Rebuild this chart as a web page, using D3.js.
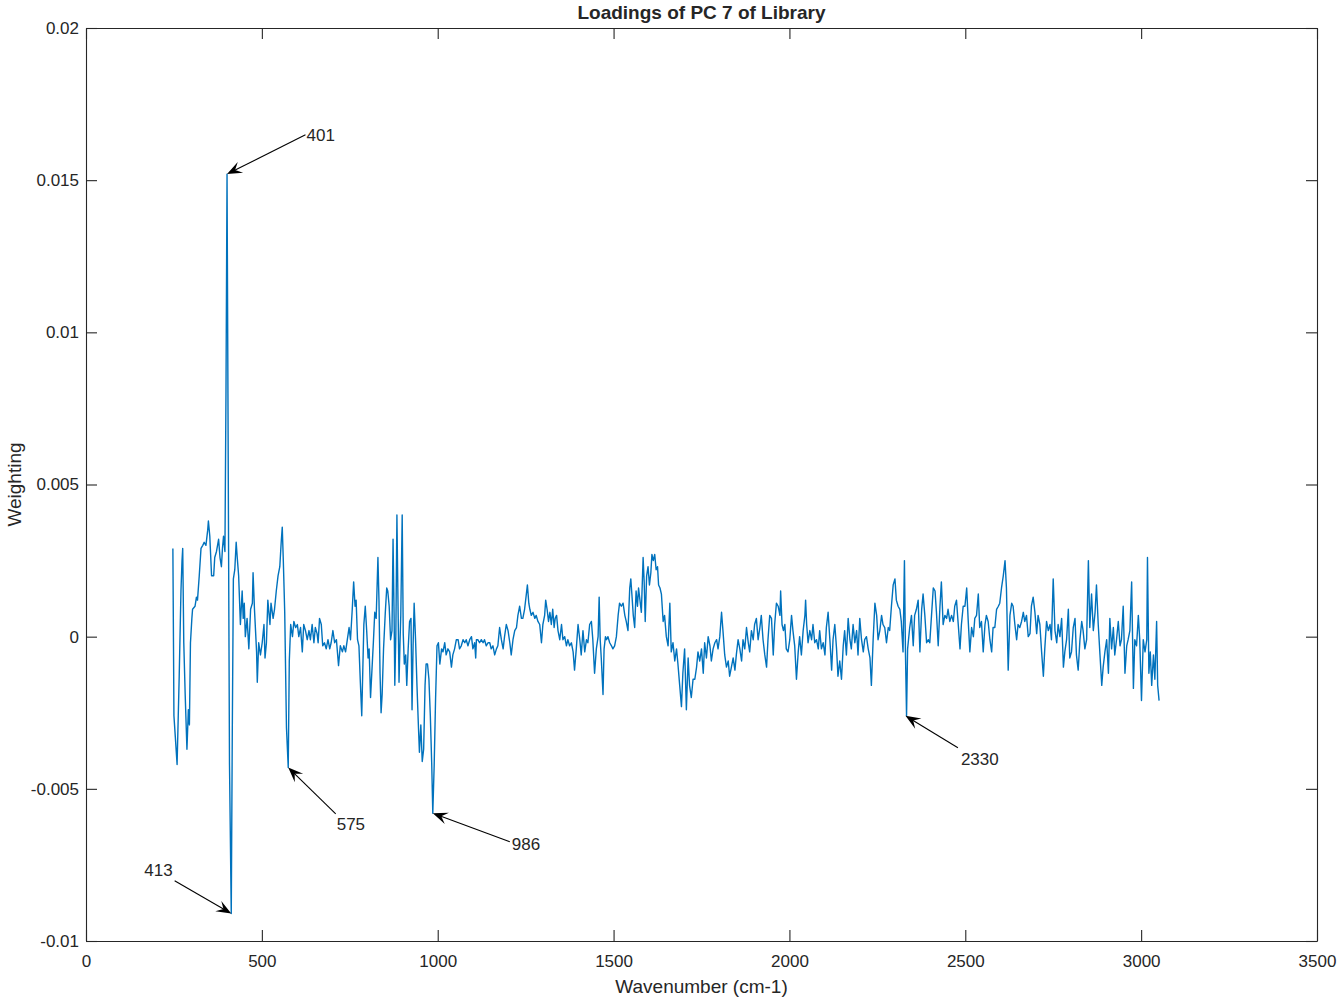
<!DOCTYPE html>
<html>
<head>
<meta charset="utf-8">
<script src="https://cdn.jsdelivr.net/npm/d3@7"></script>
<style>
  body { margin: 0; background: #fff; }
  text { font-family: "Liberation Sans", Arial, Helvetica, sans-serif; fill: #262626; }
</style>
</head>
<body>
<script>
var width = 1340;
var height = 1002;

// tick values of the axes
var xTicks = [0, 500, 1000, 1500, 2000, 2500, 3000, 3500];
var yTicks = [-0.01, -0.005, 0, 0.005, 0.01, 0.015, 0.02];

// loadings of PC 7, [wavenumber, weighting]
var loadings = [
  [247, 0.0029], [249, -0.0007], [250, -0.0026], [254, -0.0033], [259, -0.0042],
  [265, -0.0013], [270, 0.0015], [273, 0.0025], [275, 0.0029], [278, -0.0002],
  [282, -0.0019], [287, -0.0037], [291, -0.0024], [294, -0.0029], [297, -0.0002],
  [301, 0.0006], [303, 0.0009], [310, 0.0010], [314, 0.0013], [317, 0.0012],
  [322, 0.0020], [327, 0.0029], [332, 0.0030], [336, 0.0031], [341, 0.0030],
  [346, 0.0035], [348, 0.0038], [352, 0.0033], [357, 0.0020], [363, 0.0020],
  [366, 0.0026], [371, 0.0028], [374, 0.0030], [377, 0.0032], [381, 0.0026],
  [385, 0.0023], [388, 0.0029], [391, 0.0033], [395, 0.0028], [398, 0.0080],
  [401, 0.0152], [405, 0.0040], [408, -0.0042], [413, -0.0091], [416, -0.0030],
  [419, 0.0019], [423, 0.0022], [427, 0.0031], [430, 0.0026], [434, 0.0020],
  [439, 0.0004], [444, 0.0015], [447, 0.0006], [450, 0.0011], [453, 0.0000],
  [458, 0.0006], [463, -0.0004], [468, 0.0009], [473, 0.0011], [475, 0.0021],
  [479, 0.0009], [485, -0.0005], [487, -0.0015], [491, -0.0002], [496, -0.0006],
  [501, -0.0002], [506, 0.0004], [509, -0.0007], [513, -0.0002], [517, 0.0012],
  [523, 0.0004], [526, 0.0011], [532, 0.0006], [536, 0.0009], [541, 0.0015],
  [546, 0.0020], [551, 0.0023], [555, 0.0031], [558, 0.0036], [561, 0.0025],
  [565, 0.0008], [570, -0.0030], [575, -0.0043], [578, -0.0008], [582, 0.0004],
  [587, 0.0000], [591, 0.0005], [596, 0.0003], [601, 0.0004], [605, 0.0000],
  [610, 0.0003], [615, -0.0005], [619, 0.0004], [624, 0.0002], [629, -0.0001],
  [634, 0.0002], [638, -0.0001], [643, 0.0004], [648, -0.0002], [652, 0.0003],
  [657, 0.0001], [660, -0.0002], [664, 0.0006], [669, 0.0004], [673, -0.0003],
  [678, -0.0002], [683, -0.0004], [688, -0.0001], [693, -0.0004], [697, -0.0002],
  [702, 0.0002], [707, -0.0002], [712, -0.0001], [718, -0.00095], [723, -0.0003],
  [729, -0.0005], [733, -0.0003], [738, -0.0005], [743, -0.0001], [748, 0.0003],
  [752, -0.0001], [757, 0.0009], [761, 0.0018], [765, 0.0010], [768, 0.0012],
  [772, -0.0001], [776, -0.0003], [780, -0.0015], [784, -0.0026], [787, -0.0011],
  [790, 0.0004], [794, 0.0010], [798, 0.0002], [802, -0.0007], [805, -0.0004],
  [809, -0.0020], [813, -0.0011], [817, -0.0002], [821, 0.0008], [825, 0.0006],
  [830, 0.0026], [833, 0.0012], [836, -0.0012], [839, -0.0025], [842, -0.0019],
  [846, -0.0004], [851, 0.0008], [855, 0.0016], [858, 0.0015], [862, 0.0010],
  [866, -0.0001], [870, 0.0002], [873, 0.0032], [876, 0.0007], [878, -0.0016],
  [881, 0.0001], [884, 0.0040], [887, 0.0012], [890, -0.0015], [893, -0.0001],
  [895, 0.0007], [899, 0.0040], [902, 0.0001], [905, -0.0009], [909, -0.0006],
  [912, -0.0016], [916, -0.0004], [920, 0.0005], [924, 0.0006], [927, -0.0024],
  [930, -0.0003], [933, 0.0011], [937, -0.0001], [941, -0.0016], [945, -0.0029],
  [948, -0.0038], [952, -0.0029], [956, -0.0041], [960, -0.0037], [964, -0.0016],
  [967, -0.0009], [971, -0.0009], [975, -0.0014], [979, -0.0026], [983, -0.0042],
  [986, -0.0058], [990, -0.0042], [994, -0.0020], [998, -0.0003], [1002, -0.0002],
  [1006, -0.0009], [1011, -0.0004], [1015, -0.0005], [1020, -0.0002], [1024, -0.0006],
  [1029, -0.0004], [1034, -0.0005], [1039, -0.0010], [1043, -0.0006], [1048, -0.0004],
  [1053, -0.0001], [1058, -0.0001], [1062, -0.0004], [1067, -0.0003], [1072, -0.0001],
  [1077, -0.0002], [1081, -0.0001], [1086, -0.0003], [1091, -0.0001], [1096, 0.0000],
  [1100, -0.0004], [1105, -0.0002], [1108, -0.0007], [1110, -0.0001], [1114, -0.0001],
  [1119, -0.0002], [1124, -0.0001], [1129, -0.0002], [1133, -0.0001], [1138, -0.0003],
  [1143, -0.0002], [1148, -0.0002], [1152, -0.0004], [1157, -0.0003], [1162, -0.0006],
  [1167, -0.0004], [1171, -0.0003], [1176, 0.0003], [1181, -0.0001], [1186, -0.0004],
  [1190, 0.0000], [1195, 0.0004], [1200, 0.0002], [1205, -0.0002], [1209, -0.0006],
  [1214, -0.0001], [1219, 0.0002], [1224, 0.0003], [1228, 0.0007], [1233, 0.0010],
  [1238, 0.0006], [1242, 0.0006], [1247, 0.0009], [1252, 0.0014], [1255, 0.0017],
  [1259, 0.0011], [1262, 0.0009], [1266, 0.0007], [1271, 0.0008], [1276, 0.0006],
  [1280, 0.0007], [1285, 0.0005], [1290, 0.0004], [1295, -0.0002], [1299, 0.0004],
  [1304, 0.0007], [1307, 0.0012], [1311, 0.0009], [1315, 0.0005], [1319, 0.0008],
  [1323, 0.0004], [1327, 0.0009], [1331, 0.0003], [1334, 0.0006], [1338, 0.0007],
  [1342, 0.0002], [1347, -0.0001], [1352, 0.0004], [1356, -0.0001], [1361, 0.0000],
  [1366, -0.0003], [1370, -0.0001], [1375, -0.0003], [1380, -0.0002], [1385, -0.0005],
  [1389, -0.0011], [1394, -0.0004], [1399, 0.0004], [1404, -0.0001], [1408, -0.0006],
  [1413, 0.0002], [1418, -0.0005], [1423, -0.0001], [1427, -0.0002], [1432, 0.0004],
  [1437, 0.0005], [1441, -0.0001], [1446, -0.0012], [1451, -0.0004], [1456, 0.0000],
  [1459, 0.0013], [1462, -0.0001], [1465, -0.0007], [1470, -0.0019], [1473, -0.0004],
  [1477, 0.0000], [1480, -0.0001], [1484, 0.0000], [1489, -0.0002], [1494, -0.0003],
  [1498, -0.0004], [1503, -0.0003], [1508, 0.0000], [1513, 0.0007], [1517, 0.0011],
  [1522, 0.0010], [1527, 0.0011], [1532, 0.0007], [1536, 0.0005], [1541, 0.0002],
  [1546, 0.0016], [1549, 0.0019], [1552, 0.0014], [1556, 0.0007], [1560, 0.0003],
  [1564, 0.0015], [1568, 0.0010], [1571, 0.0016], [1575, 0.0012], [1579, 0.0008],
  [1584, 0.0026], [1587, 0.0018], [1590, 0.0005], [1594, 0.0020], [1598, 0.0023],
  [1602, 0.0017], [1606, 0.0021], [1609, 0.0027], [1613, 0.0025], [1617, 0.0027],
  [1621, 0.0022], [1625, 0.0023], [1628, 0.0017], [1632, 0.0016], [1636, 0.0014],
  [1641, 0.0005], [1645, 0.0007], [1650, 0.0000], [1655, -0.0003], [1660, 0.0011],
  [1664, -0.0005], [1669, -0.0002], [1674, -0.0008], [1679, -0.0004], [1683, -0.0009],
  [1688, -0.0016], [1693, -0.0023], [1697, -0.0012], [1702, -0.0004], [1707, -0.0024],
  [1712, -0.0007], [1716, -0.0016], [1721, -0.0020], [1726, -0.0014], [1731, -0.0014],
  [1736, -0.0010], [1740, -0.0005], [1745, -0.0008], [1750, -0.0004], [1755, -0.0012],
  [1759, -0.0002], [1764, -0.0007], [1769, 0.0000], [1774, -0.0003], [1778, -0.0008],
  [1783, -0.0004], [1788, -0.0002], [1793, -0.0001], [1797, -0.0004], [1802, 0.0000],
  [1807, 0.0008], [1811, 0.0002], [1816, -0.0006], [1821, -0.0010], [1826, -0.0008],
  [1830, -0.0013], [1835, -0.0010], [1840, -0.0007], [1845, -0.0011], [1849, -0.0006],
  [1854, -0.0001], [1859, -0.0004], [1864, -0.0008], [1868, -0.0001], [1873, -0.0004],
  [1878, 0.0003], [1883, -0.0002], [1887, -0.0005], [1892, 0.0002], [1897, -0.0001],
  [1901, 0.0004], [1906, 0.0006], [1911, -0.0001], [1916, 0.0003], [1920, 0.0007],
  [1925, -0.0001], [1930, -0.0006], [1935, -0.0010], [1939, -0.0001], [1944, 0.0007],
  [1949, 0.0006], [1954, -0.0006], [1958, 0.0004], [1963, 0.0011], [1968, 0.0010],
  [1973, 0.0007], [1975, 0.0015], [1979, 0.0004], [1983, 0.0002], [1987, 0.0004],
  [1991, -0.0004], [1996, -0.0005], [2001, -0.0001], [2006, 0.0007], [2010, 0.0002],
  [2015, -0.0003], [2020, -0.0014], [2025, -0.0005], [2029, 0.0000], [2034, -0.0006],
  [2039, 0.0002], [2044, 0.0007], [2046, 0.0012], [2049, 0.0004], [2053, -0.0002],
  [2058, 0.0002], [2063, -0.0001], [2067, 0.0004], [2072, -0.0002], [2077, -0.0001],
  [2082, -0.0004], [2086, 0.0002], [2091, -0.0004], [2096, -0.0002], [2101, -0.0006],
  [2105, 0.0003], [2110, 0.0008], [2115, -0.0001], [2120, -0.0011], [2124, -0.0001],
  [2129, 0.0004], [2134, -0.0004], [2138, -0.0013], [2143, -0.0008], [2148, -0.0014],
  [2153, -0.0003], [2157, 0.0002], [2162, -0.0006], [2167, 0.0006], [2172, -0.0001],
  [2176, -0.0004], [2181, 0.0004], [2186, -0.0002], [2191, 0.0002], [2195, -0.0006],
  [2200, 0.0006], [2205, -0.0001], [2210, -0.0005], [2214, -0.0001], [2219, 0.0000],
  [2224, -0.0004], [2229, -0.0007], [2233, -0.0016], [2238, -0.0001], [2243, 0.0011],
  [2248, 0.0007], [2252, -0.0001], [2257, 0.0002], [2262, 0.0007], [2266, 0.0004],
  [2271, 0.0003], [2276, -0.0002], [2281, 0.0003], [2285, 0.0002], [2290, 0.0010],
  [2295, 0.0017], [2300, 0.0019], [2304, 0.0012], [2309, 0.0010], [2314, 0.0009],
  [2318, 0.0005], [2323, -0.0005], [2327, 0.0025], [2330, -0.0006], [2333, -0.0026],
  [2336, -0.0004], [2342, 0.0003], [2347, 0.0007], [2352, -0.0003], [2356, 0.0007],
  [2361, 0.0009], [2366, 0.0012], [2371, -0.0005], [2376, 0.0009], [2380, 0.0014],
  [2385, 0.0007], [2390, -0.0002], [2395, -0.0001], [2399, -0.0002], [2404, 0.0007],
  [2409, 0.0016], [2414, 0.0015], [2418, 0.0008], [2423, -0.0003], [2428, 0.0010],
  [2432, 0.0018], [2437, 0.0004], [2442, 0.0007], [2447, 0.0006], [2451, 0.0009],
  [2456, 0.0005], [2461, 0.0007], [2466, 0.0005], [2470, 0.0010], [2475, 0.0012],
  [2480, 0.0004], [2485, -0.0004], [2489, 0.0004], [2494, 0.0010], [2499, 0.0010],
  [2504, 0.0016], [2508, 0.0006], [2513, -0.0005], [2518, 0.0003], [2523, 0.0000],
  [2527, 0.0006], [2532, 0.0007], [2537, 0.0014], [2541, 0.0003], [2546, 0.0005],
  [2551, -0.0005], [2556, 0.0004], [2560, 0.0007], [2565, 0.0005], [2570, -0.0001],
  [2575, -0.0005], [2579, 0.0003], [2584, 0.0003], [2589, 0.0009], [2594, 0.0010],
  [2598, 0.0011], [2603, 0.0016], [2608, 0.0020], [2613, 0.0025], [2617, 0.0016],
  [2622, -0.0011], [2627, 0.0007], [2632, 0.0011], [2636, 0.0010], [2641, 0.0004],
  [2646, -0.0001], [2650, 0.0004], [2655, 0.0003], [2660, 0.0005], [2665, 0.0008],
  [2669, 0.0005], [2674, 0.0007], [2679, 0.0000], [2684, 0.0001], [2688, 0.0010],
  [2693, 0.0013], [2698, 0.0008], [2703, 0.0001], [2707, 0.0007], [2712, 0.0004],
  [2717, -0.0005], [2722, -0.0013], [2726, -0.0004], [2731, 0.0005], [2736, 0.0002],
  [2741, 0.0004], [2745, -0.0001], [2750, 0.0019], [2755, 0.0002], [2760, -0.0002],
  [2764, 0.0004], [2769, 0.0000], [2774, 0.0006], [2779, -0.0010], [2783, -0.0005],
  [2788, -0.0001], [2793, 0.0009], [2797, -0.0007], [2802, -0.0005], [2807, 0.0003],
  [2812, 0.0006], [2816, -0.0006], [2821, -0.0011], [2826, -0.0001], [2831, 0.0005],
  [2835, 0.0002], [2840, -0.0004], [2845, -0.0001], [2850, 0.0025], [2854, 0.0003],
  [2859, 0.0014], [2864, 0.0002], [2869, 0.0008], [2873, 0.0017], [2878, 0.0004],
  [2883, -0.0006], [2888, -0.0016], [2892, -0.0010], [2897, -0.0005], [2902, -0.0001],
  [2907, -0.0012], [2911, 0.0006], [2916, -0.0004], [2921, 0.0003], [2925, -0.0006],
  [2930, -0.0001], [2935, 0.0005], [2940, -0.0003], [2944, -0.0001], [2949, 0.0010],
  [2954, -0.0012], [2959, -0.0003], [2963, -0.0001], [2968, 0.0002], [2973, 0.0018],
  [2978, -0.0017], [2982, -0.0001], [2987, -0.0003], [2992, 0.0007], [2996, -0.0001],
  [3001, -0.0021], [3006, -0.0001], [3011, -0.0005], [3016, -0.0001], [3018, 0.0026],
  [3022, -0.0012], [3026, -0.0005], [3030, -0.0016], [3035, -0.0006], [3039, -0.0014],
  [3044, 0.0005], [3047, -0.0016], [3051, -0.0021]
];

// labelled peaks: tip at the peak, tail (text end) in data units
var peakLabels = ["401", "413", "575", "986", "2330"];
var peakTips = [[401, 0.0152], [413, -0.0091], [575, -0.0043], [986, -0.0058], [2330, -0.0026]];
var peakTails = [[624, 0.01649], [252, -0.00802], [710, -0.00582], [1205, -0.00674], [2479, -0.00365]];

// text placement of each label relative to the tail
var labelAnchor = ["start", "end", "start", "start", "start"];
var labelShift = [[1, 0], [-2, -11], [1, 10], [2, 2], [3, 11]];

var margin = {top: 28, left: 86};
var plotW = 1231;
var plotH = 913;
var tickFont = 17;

var svg = d3.select("body").append("svg")
    .attr("width", width)
    .attr("height", height);

var x = d3.scaleLinear().domain([0, 3500]).range([0, plotW]);
var y = d3.scaleLinear().domain([-0.01, 0.02]).range([plotH, 0]);

var g = svg.append("g")
    .attr("transform", "translate(" + margin.left + "," + margin.top + ")");

//Axes, ticks pointing inward on all four sides
var fmtX = d3.format("d");
var fmtY = function(d) { return String(+d.toFixed(3)); };

g.append("g")
    .attr("transform", "translate(0," + plotH + ")")
    .call(d3.axisBottom(x).tickValues(xTicks).tickSizeInner(-11).tickSizeOuter(0).tickPadding(14).tickFormat(fmtX));
g.append("g")
    .call(d3.axisTop(x).tickValues(xTicks).tickSizeInner(-11).tickSizeOuter(0).tickFormat(""));
g.append("g")
    .call(d3.axisLeft(y).tickValues(yTicks).tickSizeInner(-11).tickSizeOuter(0).tickPadding(7).tickFormat(fmtY));
g.append("g")
    .attr("transform", "translate(" + plotW + ",0)")
    .call(d3.axisRight(y).tickValues(yTicks).tickSizeInner(-11).tickSizeOuter(0).tickFormat(""));

g.selectAll(".domain, .tick line").attr("stroke", "#262626").attr("stroke-width", 1.1);
g.selectAll(".tick text")
    .attr("font-family", "'Liberation Sans', Arial, sans-serif")
    .attr("font-size", tickFont)
    .attr("fill", "#262626");

//The spectrum line
var line = d3.line()
    .x(function(d) { return x(d[0]); })
    .y(function(d) { return y(d[1]); });

g.append("path")
    .datum(loadings)
    .attr("fill", "none")
    .attr("stroke", "#0072BD")
    .attr("stroke-width", 1.4)
    .attr("stroke-linejoin", "round")
    .attr("d", line);

//Arrows pointing at the peaks
for (var i = 0; i < peakLabels.length; i++) {
  var tx = x(peakTips[i][0]), ty = y(peakTips[i][1]);
  var sx = x(peakTails[i][0]), sy = y(peakTails[i][1]);
  var ang = Math.atan2(ty - sy, tx - sx) * 180 / Math.PI;
  var len = Math.sqrt((tx - sx) * (tx - sx) + (ty - sy) * (ty - sy));

  var arrow = g.append("g")
      .attr("transform", "translate(" + sx + "," + sy + ") rotate(" + ang + ")");
  arrow.append("line")
      .attr("x1", 0).attr("y1", 0)
      .attr("x2", len - 8).attr("y2", 0)
      .attr("stroke", "#000")
      .attr("stroke-width", 1.1);
  arrow.append("path")
      .attr("d", "M" + len + ",0 L" + (len - 15) + ",6 L" + (len - 9) + ",0 L" + (len - 15) + ",-6 Z")
      .attr("fill", "#000");

  g.append("text")
      .attr("x", sx + labelShift[i][0])
      .attr("y", sy + labelShift[i][1])
      .attr("dy", "0.35em")
      .attr("text-anchor", labelAnchor[i])
      .attr("font-size", tickFont)
      .attr("fill", "#000")
      .text(peakLabels[i]);
}

//Title and axis labels
svg.append("text")
    .attr("x", margin.left + plotW / 2)
    .attr("y", 19)
    .attr("text-anchor", "middle")
    .attr("font-size", 19)
    .attr("font-weight", "bold")
    .attr("fill", "#000")
    .text("Loadings of PC 7 of Library");

svg.append("text")
    .attr("x", margin.left + plotW / 2)
    .attr("y", 993)
    .attr("text-anchor", "middle")
    .attr("font-size", 19)
    .text("Wavenumber (cm-1)");

svg.append("text")
    .attr("transform", "translate(21," + (margin.top + plotH / 2) + ") rotate(-90)")
    .attr("text-anchor", "middle")
    .attr("font-size", 19)
    .text("Weighting");
</script>
</body>
</html>
